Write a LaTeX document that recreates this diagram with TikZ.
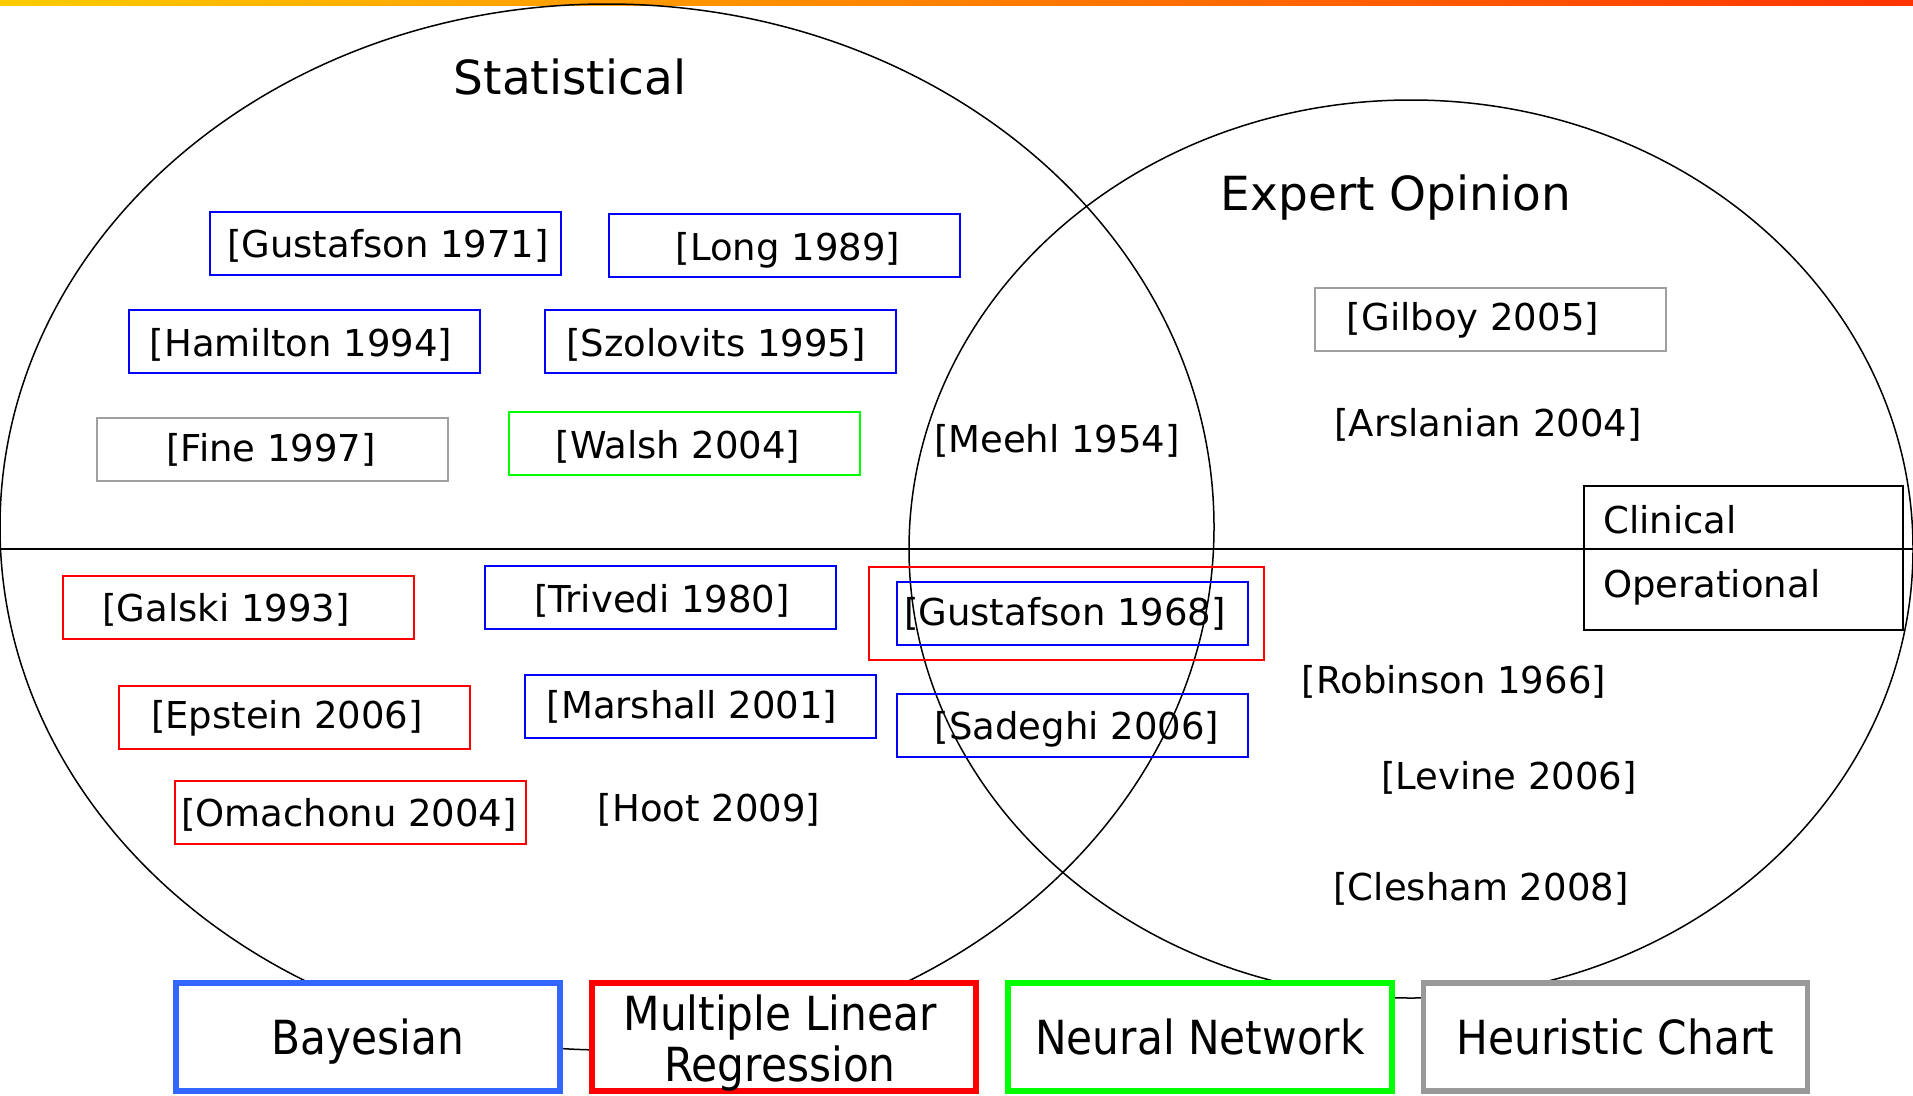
\documentclass[tikz,border=0pt]{standalone}
\usepackage{fontspec}
\setmainfont{DejaVu Sans}
\newfontfamily\legendfont[FakeStretch=0.9]{DejaVu Sans}
\definecolor{barYellow}{HTML}{FFCC00}
\definecolor{barRed}{HTML}{FF3300}
\definecolor{citeBlue}{HTML}{0000FF}
\definecolor{citeRed}{HTML}{FF0000}
\definecolor{citeGreen}{HTML}{00FF00}
\definecolor{citeGray}{HTML}{A0A0A0}
\definecolor{keyBlue}{HTML}{3366FF}
\definecolor{keyGray}{HTML}{999999}
\tikzset{
  x=1pt, y=-1pt,
  setline/.style={line width=1.5pt},
  title/.style={inner sep=0pt, text depth=0pt, font=\fontsize{47}{56}\selectfont},
  cite/.style={inner sep=0pt, yshift=-2pt, font=\fontsize{37}{44}\selectfont},
  citebox/.style={draw=#1, line width=2pt, minimum width=351pt, minimum height=63pt, inner sep=0pt},
  keybox/.style={draw=#1, line width=5.5pt, fill=white, minimum width=384pt, minimum height=108pt,
    inner sep=0pt, text depth=0pt, align=center, font=\legendfont\fontsize{47}{51}\selectfont},
}
\begin{document}
\begin{tikzpicture}
\useasboundingbox (0,0) rectangle (1913,1095);
% colour bar along the top edge
\shade[left color=barYellow, right color=barRed] (0,0) rectangle (1913,5);

% the two sets and the divider between clinical and operational work
\draw[setline] (607,527) ellipse [x radius=607, y radius=523];
\draw[setline] (1411,549) ellipse [x radius=502, y radius=449];
\coordinate (divL) at (0,549);
\coordinate (divR) at (1913,549);
\draw[setline] (divL) -- (divR);

% set titles
\node[title] (statT) at (570,77) {Statistical};
\node[title] (expT) at (1396,193) {Expert Opinion};

% clinical / operational key
\node[draw, line width=1.5pt, minimum width=319pt, minimum height=144pt, inner sep=0pt] (cokey) at (1743.5,558) {};
\node[cite, anchor=west] (clin) at (1603,518) {Clinical};
\node[cite, anchor=west] (oper) at (1603,585) {Operational};

% clinical studies
\node[citebox=citeBlue] (b1) at (385.5,243) {};
\node[cite] (t1) at (388,244) {[Gustafson 1971]};
\node[citebox=citeBlue] (b2) at (784,245) {};
\node[cite] (t2) at (788,248) {[Long 1989]};
\node[citebox=citeBlue] (b3) at (304,341) {};
\node[cite] (t3) at (301,343) {[Hamilton 1994]};
\node[citebox=citeBlue] (b4) at (720,341) {};
\node[cite] (t4) at (716,343) {[Szolovits 1995]};
\node[citebox=citeGray] (b5) at (272,449) {};
\node[cite] (t5) at (271,448) {[Fine 1997]};
\node[citebox=citeGreen] (b6) at (684,443) {};
\node[cite] (t6) at (678,445) {[Walsh 2004]};
\node[cite] (t7) at (1057,439) {[Meehl 1954]};
\node[citebox=citeGray] (b8) at (1490,319) {};
\node[cite] (t8) at (1473,318) {[Gilboy 2005]};
\node[cite] (t9) at (1488,423) {[Arslanian 2004]};

% operational studies
\node[citebox=citeRed] (b11) at (238,607) {};
\node[cite] (t11) at (226,608) {[Galski 1993]};
\node[citebox=citeBlue] (b12) at (660,597) {};
\node[cite] (t12) at (662,599) {[Trivedi 1980]};
\node[draw=citeRed, line width=2.5pt, minimum width=395pt, minimum height=93pt, inner sep=0pt] (b13r) at (1066.5,613.5) {};
\node[citebox=citeBlue] (b13) at (1072,613) {};
\node[cite] (t13) at (1065,612) {[Gustafson 1968]};
\node[citebox=citeBlue] (b14) at (1072,725) {};
\node[cite] (t14) at (1077,727) {[Sadeghi 2006]};
\node[citebox=citeRed] (b15) at (294,717) {};
\node[cite] (t15) at (287,716) {[Epstein 2006]};
\node[citebox=citeBlue] (b16) at (700,706) {};
\node[cite] (t16) at (692,705) {[Marshall 2001]};
\node[citebox=citeRed] (b17) at (350,812.5) {};
\node[cite] (t17) at (349,812.5) {[Omachonu 2004]};
\node[cite] (t18) at (709,808) {[Hoot 2009]};
\node[cite] (t19) at (1454,680) {[Robinson 1966]};
\node[cite] (t20) at (1509,776) {[Levine 2006]};
\node[cite] (t21) at (1481,887) {[Clesham 2008]};

% method key along the bottom
\node[keybox=keyBlue] (kBayes) at (368,1037) {Bayesian};
\node[keybox=citeRed] (kMLR) at (784,1037) {};
\node[font=\legendfont\fontsize{47}{51}\selectfont, align=center, inner sep=0pt] (kMLRt) at (780,1043) {Multiple Linear\\ Regression};
\node[keybox=citeGreen] (kNN) at (1200,1037) {Neural Network};
\node[keybox=keyGray] (kHeur) at (1615.5,1037) {Heuristic Chart};
\end{tikzpicture}
\end{document}
